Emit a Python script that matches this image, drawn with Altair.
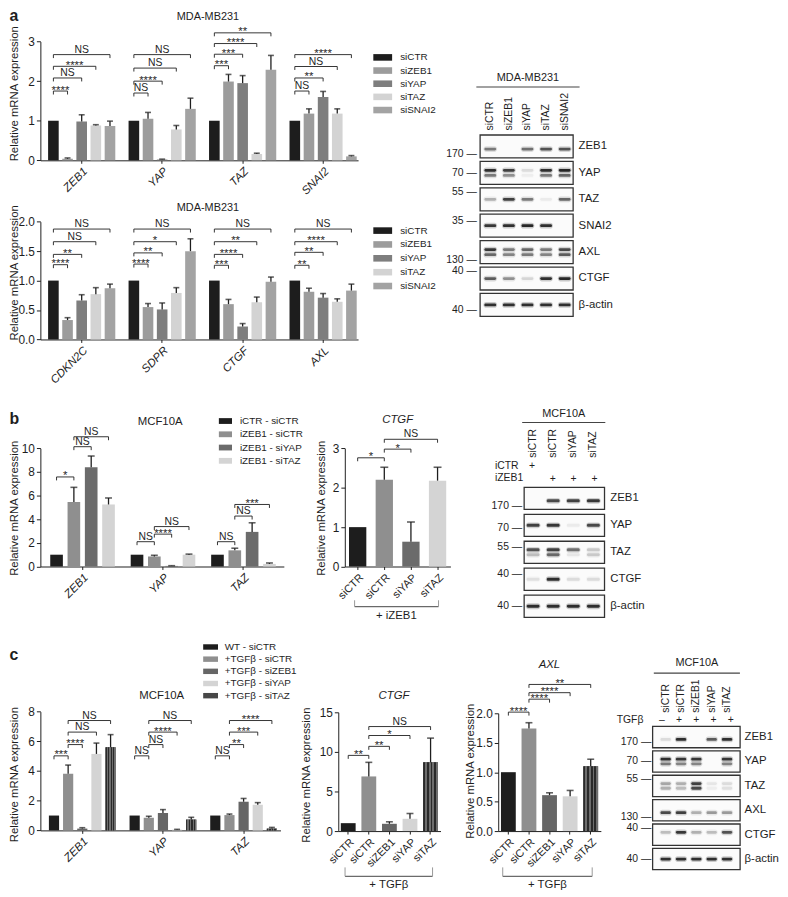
import altair as alt
import pandas as pd

W, H = 780, 889
M = 8
FONT = "Liberation Sans"
INK = "#1e1e1e"
BAND = "#141414"


def P(v):
    return round(v - M, 2)


# ======================= DATA =======================
# ---- panel a : MDA-MB231 qPCR (upper)
a_treats = ["siCTR", "siZEB1", "siYAP", "siTAZ", "siSNAI2"]
a_colors = ["#1d1d1d", "#9c9c9c", "#7e7e7e", "#d3d3d3", "#a3a3a3"]
a1_genes = ["ZEB1", "YAP", "TAZ", "SNAI2"]
a1_mean = [[1.00, 0.04, 0.98, 0.88, 0.87],
           [1.00, 1.05, 0.02, 0.78, 1.30],
           [1.00, 1.99, 1.95, 0.16, 2.29],
           [1.00, 1.18, 1.60, 1.18, 0.10]]
a1_top = [[1.00, 0.06, 1.15, 0.90, 0.99],
          [1.00, 1.21, 0.03, 0.88, 1.57],
          [1.00, 2.17, 2.14, 0.18, 2.65],
          [1.00, 1.30, 1.74, 1.30, 0.12]]
a1_sig = [("ZEB1", 0, 1, 1.75, "****"), ("ZEB1", 0, 2, 2.08, "NS"), ("ZEB1", 0, 3, 2.375, "****"), ("ZEB1", 0, 4, 2.67, "NS"),
          ("YAP", 0, 1, 1.70, "NS"), ("YAP", 0, 2, 2.00, "****"), ("YAP", 0, 3, 2.33, "NS"), ("YAP", 0, 4, 2.67, "NS"),
          ("TAZ", 0, 1, 2.39, "***"), ("TAZ", 0, 2, 2.68, "***"), ("TAZ", 0, 3, 2.95, "****"), ("TAZ", 0, 4, 3.22, "**"),
          ("SNAI2", 0, 1, 1.75, "NS"), ("SNAI2", 0, 2, 2.08, "**"), ("SNAI2", 0, 3, 2.37, "NS"), ("SNAI2", 0, 4, 2.67, "****")]

# ---- panel a : MDA-MB231 qPCR (lower)
a2_genes = ["CDKN2C", "SDPR", "CTGF", "AXL"]
a2_mean = [[1.00, 0.33, 0.66, 0.77, 0.87],
           [1.00, 0.55, 0.51, 0.79, 1.50],
           [1.00, 0.60, 0.22, 0.63, 0.98],
           [1.00, 0.81, 0.71, 0.64, 0.83]]
a2_top = [[1.00, 0.37, 0.76, 0.88, 0.94],
          [1.00, 0.61, 0.62, 0.88, 1.71],
          [1.00, 0.68, 0.27, 0.72, 1.06],
          [1.00, 0.87, 0.78, 0.69, 0.94]]
a2_sig = [("CDKN2C", 0, 1, 1.27, "****"), ("CDKN2C", 0, 2, 1.445, "**"), ("CDKN2C", 0, 3, 1.66, "NS"), ("CDKN2C", 0, 4, 1.875, "NS"),
          ("SDPR", 0, 1, 1.28, "****"), ("SDPR", 0, 2, 1.47, "**"), ("SDPR", 0, 3, 1.66, "*"), ("SDPR", 0, 4, 1.875, "NS"),
          ("CTGF", 0, 1, 1.26, "***"), ("CTGF", 0, 2, 1.445, "****"), ("CTGF", 0, 3, 1.66, "**"), ("CTGF", 0, 4, 1.875, "NS"),
          ("AXL", 0, 1, 1.26, "**"), ("AXL", 0, 2, 1.48, "**"), ("AXL", 0, 3, 1.66, "****"), ("AXL", 0, 4, 1.875, "NS")]

# ---- panel a : western blot
a_blot_lanes = ["siCTR", "siZEB1", "siYAP", "siTAZ", "siSNAI2"]
a_blot_rows = ["ZEB1", "YAP", "TAZ", "SNAI2", "AXL", "CTGF", "β-actin"]
a_blot_bands = [("ZEB1", 5, [0.55, 0.00, 0.60, 0.75, 0.75]),
                ("YAP", 3, [0.95, 0.85, 0.12, 0.95, 1.00]),
                ("YAP", 5, [0.55, 0.45, 0.05, 0.55, 0.65]),
                ("TAZ", 4, [0.30, 0.85, 0.55, 0.06, 0.65]),
                ("SNAI2", 4, [0.90, 0.95, 1.00, 0.95, 0.00]),
                ("AXL", 3, [0.90, 0.55, 0.65, 0.55, 0.80]),
                ("AXL", 5, [0.65, 0.50, 0.55, 0.50, 0.70]),
                ("CTGF", 4, [0.70, 0.45, 0.15, 0.95, 1.00]),
                ("β-actin", 4, [0.95, 0.95, 0.95, 0.95, 0.95])]
a_blot_mw = [("ZEB1", 7, "170"), ("YAP", 4, "70"), ("TAZ", 1, "55"), ("SNAI2", 2, "35"),
             ("AXL", 7, "130"), ("CTGF", 1, "40"), ("β-actin", 6, "40")]

# ---- panel b : MCF10A qPCR
b_treats = ["iCTR - siCTR", "iZEB1 - siCTR", "iZEB1 - siYAP", "iZEB1 - siTAZ"]
b_colors = ["#1d1d1d", "#8f8f8f", "#6b6b6b", "#d4d4d4"]
b1_genes = ["ZEB1", "YAP", "TAZ"]
b1_mean = [[1.00, 5.45, 8.40, 5.25],
           [1.00, 0.85, 0.05, 1.00],
           [1.00, 1.37, 2.93, 0.22]]
b1_top = [[1.00, 6.70, 9.35, 5.80],
          [1.00, 0.95, 0.07, 1.05],
          [1.00, 1.55, 3.70, 0.30]]
b1_sig = [("ZEB1", 0, 1, 7.58, "*"), ("ZEB1", 1, 2, 10.14, "NS"), ("ZEB1", 1, 3, 10.98, "NS"),
          ("YAP", 0, 1, 2.10, "NS"), ("YAP", 1, 2, 2.74, "****"), ("YAP", 1, 3, 3.38, "NS"),
          ("TAZ", 0, 1, 2.10, "NS"), ("TAZ", 1, 2, 4.27, "NS"), ("TAZ", 1, 3, 5.25, "***")]

b_lanes = ["iCTR|siCTR", "iZEB1|siCTR", "iZEB1|siYAP", "iZEB1|siTAZ"]
b2_mean = [1.00, 2.20, 0.63, 2.18]
b2_top = [1.00, 2.52, 1.13, 2.52]
b2_sig = [(None, 0, 1, 2.76, "*"), (None, 1, 2, 2.98, "*"), (None, 1, 3, 3.23, "NS")]

b_blot_rows = ["ZEB1", "YAP", "TAZ", "CTGF", "β-actin"]
b_blot_bands = [("ZEB1", 5, [0.00, 0.80, 0.85, 0.90]),
                ("YAP", 4, [0.85, 0.90, 0.06, 0.80]),
                ("TAZ", 3, [0.75, 0.85, 0.60, 0.20]),
                ("TAZ", 5, [0.25, 0.65, 0.08, 0.20]),
                ("CTGF", 4, [0.10, 0.95, 0.12, 0.12]),
                ("β-actin", 4, [0.95, 0.95, 0.95, 0.95])]
b_blot_mw = [("ZEB1", 7, "170"), ("YAP", 5, "70"), ("TAZ", 2, "55"), ("CTGF", 2, "40"), ("β-actin", 4, "40")]
b_icTR_signs = ["+", "", "", ""]
b_iZEB1_signs = ["", "+", "+", "+"]

# ---- panel c : MCF10A + TGFβ qPCR
c_treats = ["WT - siCTR", "+TGFβ - siCTR", "+TGFβ - siZEB1", "+TGFβ - siYAP", "+TGFβ - siTAZ"]
c_colors = ["#1d1d1d", "#8f8f8f", "#666666", "#d4d4d4", "#474747"]
c1_genes = ["ZEB1", "YAP", "TAZ"]
c1_mean = [[1.00, 3.82, 0.12, 5.15, 5.60],
           [1.00, 0.85, 1.17, 0.05, 0.73],
           [1.00, 1.03, 1.93, 1.73, 0.12]]
c1_top = [[1.00, 4.40, 0.18, 5.88, 6.45],
          [1.00, 0.95, 1.40, 0.07, 0.88],
          [1.00, 1.10, 2.15, 1.87, 0.20]]
c1_sig = [("ZEB1", 0, 1, 5.02, "***"), ("ZEB1", 1, 2, 5.78, "****"), ("ZEB1", 1, 3, 6.62, "NS"), ("ZEB1", 1, 4, 7.40, "NS"),
          ("YAP", 0, 1, 5.02, "NS"), ("YAP", 1, 2, 5.78, "NS"), ("YAP", 1, 3, 6.62, "****"), ("YAP", 1, 4, 7.40, "NS"),
          ("TAZ", 0, 1, 5.02, "NS"), ("TAZ", 1, 2, 5.78, "**"), ("TAZ", 1, 3, 6.62, "***"), ("TAZ", 1, 4, 7.40, "****")]

c_lanes = ["-|siCTR", "+|siCTR", "+|siZEB1", "+|siYAP", "+|siTAZ"]
c2_mean = [1.00, 6.90, 0.92, 1.55, 8.68]
c2_top = [1.00, 8.68, 1.17, 2.22, 11.74]
c2_sig = [(None, 0, 1, 9.56, "**"), (None, 1, 2, 10.70, "**"), (None, 1, 3, 12.07, "*"), (None, 1, 4, 13.20, "NS")]
c3_mean = [1.00, 1.74, 0.61, 0.59, 1.10]
c3_top = [1.00, 1.84, 0.65, 0.69, 1.22]
c3_sig = [(None, 0, 1, 2.02, "****"), (None, 1, 2, 2.24, "****"), (None, 1, 3, 2.35, "****"), (None, 1, 4, 2.49, "**")]

c_blot_rows = ["ZEB1", "YAP", "TAZ", "AXL", "CTGF", "β-actin"]
c_blot_bands = [("ZEB1", 5, [0.12, 0.95, 0.00, 0.70, 0.95]),
                ("YAP", 3, [0.95, 0.90, 0.90, 0.00, 0.90]),
                ("YAP", 5, [0.55, 0.50, 0.50, 0.00, 0.50]),
                ("TAZ", 3, [0.35, 0.30, 0.85, 0.08, 0.12]),
                ("TAZ", 5, [0.30, 0.25, 0.80, 0.05, 0.10]),
                ("AXL", 5, [0.80, 0.85, 0.30, 0.40, 0.40]),
                ("CTGF", 3, [0.25, 0.90, 0.30, 0.25, 0.75]),
                ("β-actin", 4, [0.95, 0.95, 0.95, 0.95, 0.95])]
c_blot_mw = [("ZEB1", 6, "170"), ("YAP", 4, "70"), ("TAZ", 1, "55"), ("AXL", 7, "130"), ("CTGF", 1, "40"), ("β-actin", 4, "40")]
c_tgf_signs = ["–", "+", "+", "+", "+"]

LEVELS = [str(k) for k in range(9)]
LANE_EXPR = "split(datum.value, '|')[1]"

# hatched fill used for the siTAZ bars of panel c
_st = []
for _i in range(8):
    _c = "#2a2a2a" if _i % 2 == 0 else "#6e6e6e"
    _st += [alt.GradientStop(offset=_i / 8, color=_c), alt.GradientStop(offset=(_i + 1) / 8, color=_c)]
HATCH = alt.LinearGradient(gradient="linear", stops=_st, x1=0, x2=1, y1=0, y2=0)

# ======================= LAYOUT (page pixels) =======================
GA1 = dict(x0=40.7, x1=361.7, y0=157.3, yt=37.3, dmax=3, ticks=[0, 1, 2, 3], fmt="d",
           pi=0.165, po=0.0565, align=0.85, sub=0.25, tx=15, ty=89.5, cap=6, hatch=None,
           leg=(381.6, 48.3), legpath="M-5,-1.75H5V1.75H-5Z", legsize=14.44, legoff=12.6, legrow=3.3)
GA2 = dict(GA1, y0=338.3, yt=219.3, dmax=2, ticks=[0, 0.5, 1, 1.5, 2], fmt=".1f", ty=270.5,
           leg=(381.6, 223.3), legrow=4)
GB1 = dict(x0=40.7, x1=286.7, y0=567.7, yt=448.3, dmax=10, ticks=[0, 2, 4, 6, 8, 10], fmt="d",
           pi=0.197, po=0.1115, align=0.55, sub=0.27, tx=15, ty=508.3, cap=7, hatch=None,
           leg=(222.7, 415.7), legpath="M-5,-2.2H5V2.2H-5Z", legsize=7.08, legoff=9.6, legrow=3.4)
GB2 = dict(x0=348.3, x1=455, y0=567.7, yt=448.3, dmax=3, ticks=[0, 1, 2, 3], fmt="d",
           pi=0.35, po=0.158, tx=325, ty=508.3, cap=8, hatch=None,
           grp=dict(s=1, e=3, y=608.3, tick=6.5, lo=-30, ro=1, ty=618, tdx=-14.7, label="+ iZEB1"))
GC1 = dict(x0=40.7, x1=283.3, y0=834.3, yt=714.3, dmax=8, ticks=[0, 2, 4, 6, 8], fmt="d",
           pi=0.172, po=0.0745, align=0.71, sub=0.28, tx=15, ty=777.5, cap=6, hatch="+TGFβ - siTAZ",
           leg=(207.7, 644), legpath="M-5,-1.83H5V1.83H-5Z", legsize=9, legoff=9.3, legrow=2.3)
GC2 = dict(x0=341.7, x1=445, y0=835, yt=715, dmax=15, ticks=[0, 5, 10, 15], fmt="d",
           pi=0.28, po=0.123, tx=310, ty=778, cap=7, hatch="+|siTAZ",
           grp=dict(s=1, e=4, y=880.7, tick=9, lo=-24, ro=2, ty=890, tdx=-11, label="+ TGFβ"))
GC3 = dict(x0=503.3, x1=607, y0=835, yt=716, dmax=2, ticks=[0, 0.5, 1, 1.5, 2], fmt=".1f",
           pi=0.28, po=0.133, tx=475, ty=774, cap=7, hatch="+|siTAZ",
           grp=dict(s=1, e=4, y=880.7, tick=9, lo=-26.5, ro=1.5, ty=890, tdx=-12.5, label="+ TGFβ"))

BA = dict(lx0=480.7, lx1=585, lpo=0.274, ry0=131.7, ry1=315, rpi=0.13, fx0=485, fx1=579,
          hy=82.7, lby=126.7, hty=74, hx=532.8, rlx=584, mx=481.7, bs=12, th=2.8, header="MDA-MB231", expr=None)
BB = dict(lx0=527, lx1=611, lpo=0.069, ry0=487.7, ry1=619, rpi=0.18, fx0=529.5, fx1=610.7,
          hy=421.7, lby=457.3, hty=413.3, hx=569, rlx=616, mx=527.5, bs=13, th=3, header="MCF10A", expr=LANE_EXPR)
BC = dict(lx0=660, lx1=747, lpo=0.306, ry0=729.3, ry1=874, rpi=0.127, fx0=659.3, fx1=747.7,
          hy=675, lby=715, hty=665, hx=703.5, rlx=751.7, mx=658, bs=10.5, th=2.8, header="MCF10A", expr=LANE_EXPR)


# ======================= HELPERS =======================
def y_axis(g):
    return alt.Axis(orient="left", offset=-P(g["x0"]), values=g["ticks"], format=g["fmt"],
                    title="Relative mRNA expression", titleX=round(g["tx"] - g["x0"], 2), titleY=P(g["ty"]),
                    titleAngle=270, titleAlign="center", titleBaseline="middle",
                    titleFontSize=11.5, titleFontWeight="normal", titleColor=INK, titleFont=FONT,
                    labelFontSize=12, labelFont=FONT, labelColor=INK, labelPadding=2,
                    tickSize=4, tickColor=INK, tickWidth=1, domainColor=INK, domainWidth=1, grid=False)


def x_axis(g, italic=True, expr=None, fs=11.5):
    kw = dict(orient="bottom", offset=round(P(g["y0"]) - H, 2), title=None, labelAngle=315,
              labelAlign="right", labelBaseline="top", labelFontSize=fs, labelFont=FONT,
              labelColor=INK, labelPadding=2, tickSize=3, tickColor=INK, domainColor=INK,
              domainWidth=1, grid=False, labelOverlap=False)
    if italic:
        kw["labelFontStyle"] = "italic"
    if expr:
        kw["labelExpr"] = expr
    return alt.Axis(**kw)


def legend(g):
    lx, ly = g["leg"]
    return alt.Legend(orient="none", legendX=P(lx), legendY=P(ly), title=None,
                      symbolType=g["legpath"], symbolSize=g["legsize"], symbolStrokeWidth=0,
                      symbolOpacity=1, labelFontSize=10, labelFont=FONT, labelColor=INK,
                      labelOffset=g["legoff"], rowPadding=g["legrow"], padding=0, labelLimit=300)


def detail_layers(df, sig, X, ys, g):
    de = df[df["top"] > df["mean"] + 1e-9]
    out = [
        alt.Chart(de).mark_rule(color=INK, strokeWidth=1.3).encode(
            **X(), y=alt.Y("mean:Q", scale=ys, axis=None), y2="top:Q"),
        alt.Chart(de).mark_tick(orient="horizontal", color=INK, thickness=1.6, size=g["cap"]).encode(
            **X(), y=alt.Y("top:Q", scale=ys, axis=None)),
    ]
    d = 3.5 * g["dmax"] / (g["y0"] - g["yt"])
    lines, labs = [], []
    for bi, (ge, s, e, yv, lab) in enumerate(sig):
        for k, (sl, yy) in enumerate([(s, yv - d), (s, yv), (e, yv), (e, yv - d)]):
            lines.append({"gene": ge, "slot": f"{sl:g}", "yv": yy, "bid": bi, "k": k})
        labs.append({"gene": ge, "slot": f"{(s + e) / 2:g}", "yv": yv, "lab": lab})
    out.append(alt.Chart(pd.DataFrame(lines)).mark_line(color=INK, strokeWidth=0.9).encode(
        **X(), y=alt.Y("yv:Q", scale=ys, axis=None), detail="bid:N", order="k:Q"))
    ldf = pd.DataFrame(labs)
    ns = ldf[ldf["lab"] == "NS"]
    st = ldf[ldf["lab"] != "NS"]
    if len(ns):
        out.append(alt.Chart(ns).mark_text(fontSize=10.5, baseline="alphabetic", dy=-2, color=INK).encode(
            **X(), y=alt.Y("yv:Q", scale=ys, axis=None), text="lab:N"))
    if len(st):
        out.append(alt.Chart(st).mark_text(fontSize=11.5, baseline="alphabetic", dy=2.5, color=INK).encode(
            **X(), y=alt.Y("yv:Q", scale=ys, axis=None), text="lab:N"))
    return out


def y_scale(g):
    return alt.Scale(domain=[0, g["dmax"]], range=[P(g["y0"]), P(g["yt"])], nice=False, zero=False)


def grouped(genes, treats, colors, mean, top, sig, g):
    n = len(treats)
    xs = alt.Scale(domain=genes, range=[P(g["x0"]), P(g["x1"])], paddingInner=g["pi"],
                   paddingOuter=g["po"], align=g["align"])
    xob = alt.Scale(domain=treats, paddingInner=g["sub"], paddingOuter=0)
    slots = [f"{k / 2:g}" for k in range(2 * n - 1)]
    xop = alt.Scale(type="point", domain=slots, padding=round(1 - g["sub"], 4))
    ys = y_scale(g)
    rows = [dict(gene=ge, treat=t, slot=f"{ti:g}", mean=mean[gi][ti], top=top[gi][ti])
            for gi, ge in enumerate(genes) for ti, t in enumerate(treats)]
    df = pd.DataFrame(rows)
    L = [alt.Chart(df).mark_bar().encode(
        x=alt.X("gene:N", scale=xs, axis=x_axis(g)),
        xOffset=alt.XOffset("treat:N", scale=xob),
        y=alt.Y("mean:Q", scale=ys, axis=y_axis(g)),
        color=alt.Color("treat:N", scale=alt.Scale(domain=treats, range=colors), legend=legend(g)))]
    if g["hatch"]:
        hd = df[df["treat"] == g["hatch"]]
        L.append(alt.Chart(hd).mark_bar(color=HATCH).encode(
            x=alt.X("gene:N", scale=xs, axis=None),
            xOffset=alt.XOffset("treat:N", scale=xob),
            y=alt.Y("mean:Q", scale=ys, axis=None)))

    def X():
        return dict(x=alt.X("gene:N", scale=xs, axis=None), xOffset=alt.XOffset("slot:N", scale=xop))

    L += detail_layers(df, sig, X, ys, g)
    return L


def lane_chart(lanes, colors, mean, top, sig, g):
    n = len(lanes)
    rng = [P(g["x0"]), P(g["x1"])]
    xs = alt.Scale(domain=lanes, range=rng, paddingInner=g["pi"], paddingOuter=g["po"])
    slots = [f"{k / 2:g}" for k in range(2 * n - 1)]
    xp = alt.Scale(type="point", domain=slots, range=rng, padding=round(1 - g["pi"] + 2 * g["po"], 4))
    ys = y_scale(g)
    df = pd.DataFrame([dict(gene=None, lane=ln, slot=f"{i:g}", mean=mean[i], top=top[i]) for i, ln in enumerate(lanes)])
    L = [alt.Chart(df).mark_bar().encode(
        x=alt.X("lane:N", scale=xs, axis=x_axis(g, italic=False, expr=LANE_EXPR, fs=11)),
        y=alt.Y("mean:Q", scale=ys, axis=y_axis(g)),
        color=alt.Color("lane:N", scale=alt.Scale(domain=lanes, range=colors), legend=None))]
    if g["hatch"]:
        hd = df[df["lane"] == g["hatch"]]
        L.append(alt.Chart(hd).mark_bar(color=HATCH).encode(
            x=alt.X("lane:N", scale=xs, axis=None),
            y=alt.Y("mean:Q", scale=ys, axis=None)))

    def X():
        return dict(x=alt.X("slot:N", scale=xp, axis=None))

    L += detail_layers(df, sig, X, ys, g)
    gb = g["grp"]
    gdf = pd.DataFrame([{"s": f"{gb['s']:g}", "e": f"{gb['e']:g}", "m": f"{(gb['s'] + gb['e']) / 2:g}", "lab": gb["label"]}])
    L.append(alt.Chart(gdf).mark_rule(color="#444", strokeWidth=1, xOffset=gb["lo"], x2Offset=gb["ro"]).encode(
        x=alt.X("s:N", scale=xp, axis=None), x2="e:N", y=alt.value(P(gb["y"]))))
    L.append(alt.Chart(gdf).mark_rule(color="#999", strokeWidth=1, xOffset=gb["lo"]).encode(
        x=alt.X("s:N", scale=xp, axis=None), y=alt.value(P(gb["y"] - gb["tick"])), y2=alt.value(P(gb["y"]))))
    L.append(alt.Chart(gdf).mark_rule(color="#999", strokeWidth=1, xOffset=gb["ro"]).encode(
        x=alt.X("e:N", scale=xp, axis=None), y=alt.value(P(gb["y"] - gb["tick"])), y2=alt.value(P(gb["y"]))))
    L.append(alt.Chart(gdf).mark_text(dx=gb["tdx"], fontSize=11.5, baseline="middle", color=INK).encode(
        x=alt.X("m:N", scale=xp, axis=None), y=alt.value(P(gb["ty"])), text="lab:N"))
    return L


def blot(lanes, rows, bands, markers, g):
    lane_s = alt.Scale(domain=lanes, range=[P(g["lx0"]), P(g["lx1"])], paddingInner=0, paddingOuter=g["lpo"])
    row_s = alt.Scale(domain=rows, range=[P(g["ry0"]), P(g["ry1"])], paddingInner=g["rpi"], paddingOuter=0)
    lvl_s = alt.Scale(type="point", domain=LEVELS, padding=0.5)
    L = []
    fdf = pd.DataFrame({"row": rows})
    L.append(alt.Chart(fdf).mark_rect(fill="#fbfbfb", stroke="#333333", strokeWidth=1.3).encode(
        y=alt.Y("row:N", scale=row_s, axis=alt.Axis(
            orient="right", offset=round(P(g["rlx"]) - W, 2), domain=False, ticks=False, tickSize=0,
            labelPadding=0, title=None, labelFontSize=11.5, labelColor=INK, labelAlign="left",
            labelBaseline="middle", grid=False, labelFont=FONT)),
        x=alt.value(P(g["fx0"])), x2=alt.value(P(g["fx1"]))))
    brows = []
    for r, lvl, vals in bands:
        for li, ln in enumerate(lanes):
            if vals[li] > 0:
                brows.append({"row": r, "lvl": str(lvl), "lane": ln, "v": vals[li]})
    bdf = pd.DataFrame(brows)
    ax = dict(orient="top", offset=-P(g["hy"]), domain=True, domainColor="#444", domainWidth=1.2,
              ticks=False, tickSize=0, grid=False, labelAngle=270, labelAlign="left",
              labelBaseline="middle", labelPadding=-round(g["lby"] - g["hy"], 2), labelFontSize=10.5,
              labelColor=INK, labelFont=FONT, labelOverlap=False, title=g["header"], titleX=P(g["hx"]),
              titleY=-round(g["hy"] - g["hty"], 2), titleAlign="center", titleBaseline="middle",
              titleFontSize=11, titleFontWeight="normal", titleColor=INK, titleAngle=0, titleFont=FONT)
    if g["expr"]:
        ax["labelExpr"] = g["expr"]
    L.append(alt.Chart(bdf).transform_calculate(o="datum.v * 0.22").mark_tick(
        orient="horizontal", color=BAND, thickness=g["th"] + 3, size=g["bs"] + 2, cornerRadius=3).encode(
        x=alt.X("lane:N", scale=lane_s, axis=alt.Axis(**ax)),
        y=alt.Y("row:N", scale=row_s, axis=None),
        yOffset=alt.YOffset("lvl:N", scale=lvl_s),
        opacity=alt.Opacity("o:Q", scale=None)))
    L.append(alt.Chart(bdf).transform_calculate(o="datum.v * 0.9").mark_tick(
        orient="horizontal", color=BAND, thickness=g["th"], size=g["bs"], cornerRadius=1.4).encode(
        x=alt.X("lane:N", scale=lane_s, axis=None),
        y=alt.Y("row:N", scale=row_s, axis=None),
        yOffset=alt.YOffset("lvl:N", scale=lvl_s),
        opacity=alt.Opacity("o:Q", scale=None)))
    mdf = pd.DataFrame([{"row": r, "lvl": str(l), "mw": m} for r, l, m in markers])
    L.append(alt.Chart(mdf).transform_calculate(t="datum.mw + ' —'").mark_text(
        align="right", baseline="middle", fontSize=10.5, color=INK).encode(
        x=alt.value(P(g["mx"])), y=alt.Y("row:N", scale=row_s, axis=None),
        yOffset=alt.YOffset("lvl:N", scale=lvl_s), text="t:N"))
    return L, lane_s


def sign_row(lanes, signs, y, lane_s):
    df = pd.DataFrame({"lane": lanes, "s": signs})
    df = df[df["s"] != ""]
    return alt.Chart(df).mark_text(fontSize=10.5, color=INK, baseline="middle").encode(
        x=alt.X("lane:N", scale=lane_s, axis=None), y=alt.value(P(y)), text="s:N")


def label(t, x, y, size=10.5, align="center", baseline="middle", **kw):
    return alt.Chart(pd.DataFrame({"t": [t]})).mark_text(
        fontSize=size, align=align, baseline=baseline, color=INK, **kw).encode(
        x=alt.value(P(x)), y=alt.value(P(y)), text="t:N")


# ======================= BUILD =======================
layers = []
layers += grouped(a1_genes, a_treats, a_colors, a1_mean, a1_top, a1_sig, GA1)
layers += grouped(a2_genes, a_treats, a_colors, a2_mean, a2_top, a2_sig, GA2)
la, _ = blot(a_blot_lanes, a_blot_rows, a_blot_bands, a_blot_mw, BA)
layers += la

layers += grouped(b1_genes, b_treats, b_colors, b1_mean, b1_top, b1_sig, GB1)
layers += lane_chart(b_lanes, b_colors, b2_mean, b2_top, b2_sig, GB2)
lb, lane_b = blot(b_lanes, b_blot_rows, b_blot_bands, b_blot_mw, BB)
layers += lb
layers.append(sign_row(b_lanes, b_icTR_signs, 465.7, lane_b))
layers.append(sign_row(b_lanes, b_iZEB1_signs, 479.3, lane_b))
layers.append(label("iCTR", 500, 466, size=10.5, align="left"))
layers.append(label("iZEB1", 500, 478, size=10.5, align="left"))

layers += grouped(c1_genes, c_treats, c_colors, c1_mean, c1_top, c1_sig, GC1)
layers += lane_chart(c_lanes, c_colors, c2_mean, c2_top, c2_sig, GC2)
layers += lane_chart(c_lanes, c_colors, c3_mean, c3_top, c3_sig, GC3)
lc, lane_c = blot(c_lanes, c_blot_rows, c_blot_bands, c_blot_mw, BC)
layers += lc
layers.append(sign_row(c_lanes, c_tgf_signs, 723.3, lane_c))
layers.append(label("TGFβ", 650, 723.3, size=10.5, align="right"))

# titles and panel letters
layers.append(label("MDA-MB231", 210, 13, size=11))
layers.append(label("MDA-MB231", 210, 205, size=11))
layers.append(label("MCF10A", 161.7, 421.7, size=11.5))
layers.append(label("CTGF", 401.7, 419.3, size=11.5, fontStyle="italic"))
layers.append(label("MCF10A", 163.3, 698.3, size=11.5))
layers.append(label("CTGF", 398, 698.3, size=11.5, fontStyle="italic"))
layers.append(label("AXL", 555, 667.7, size=11.5, fontStyle="italic"))
layers.append(label("a", 9.5, 17, size=16, align="left", baseline="alphabetic", fontWeight="bold"))
layers.append(label("b", 9.5, 423.3, size=16, align="left", baseline="alphabetic", fontWeight="bold"))
layers.append(label("c", 9.5, 661.7, size=16, align="left", baseline="alphabetic", fontWeight="bold"))

chart = alt.layer(*layers).resolve_scale(
    x="independent", y="independent", xOffset="independent", yOffset="independent",
    color="independent", opacity="independent"
).properties(width=W, height=H, padding=0, autosize="none").configure(
    font=FONT
).configure_view(stroke=None)

chart.save("out.html", embed_options={"renderer": "svg", "actions": False})
